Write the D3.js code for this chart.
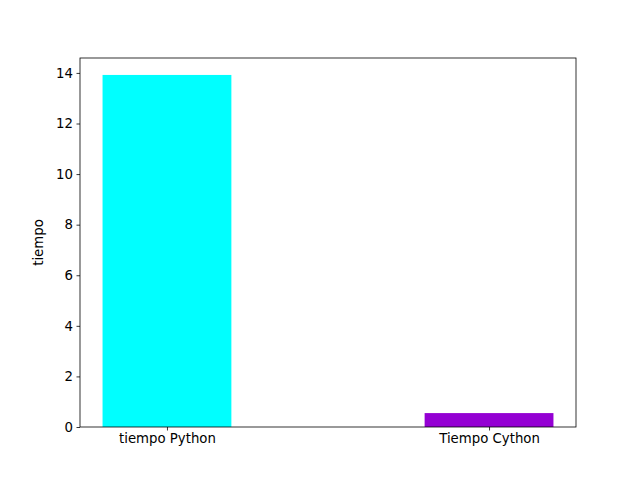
<!DOCTYPE html>
<html><head><meta charset="utf-8">
<script src="https://cdn.jsdelivr.net/npm/d3@7"></script>
<style>body{margin:0;background:#fff}</style></head>
<body><svg id="c" width="640" height="480"></svg>
<script>
const categories = ["tiempo Python", "Tiempo Cython"];
const values = [13.92, 0.55];
const colors = ["#00ffff", "#9400d3"];
const yTicks = [0, 2, 4, 6, 8, 10, 12, 14];

const svg = d3.select("#c");
const L = 80, R = 576, T = 58, B = 427;
const x = d3.scaleLinear().domain([-0.27, 1.27]).range([L, R]);
const y = d3.scaleLinear().domain([0, 14.59]).range([B, T]);
const bw = 0.4;

svg.selectAll("rect.bar").data(values).join("rect")
  .attr("x", (d, i) => x(i - bw / 2))
  .attr("width", (d, i) => x(i + bw / 2) - x(i - bw / 2))
  .attr("y", d => y(d))
  .attr("height", d => y(0) - y(d))
  .attr("fill", (d, i) => colors[i]);

const font = "DejaVu Sans, sans-serif";
const ya = svg.append("g").attr("transform", `translate(${L},0)`)
  .call(d3.axisLeft(y).tickValues(yTicks).tickSize(3.5).tickPadding(3.5));
const xa = svg.append("g").attr("transform", `translate(0,${B})`)
  .call(d3.axisBottom(x).tickValues([0, 1]).tickFormat((d) => categories[d]).tickSize(3.5).tickPadding(3.5));
[ya, xa].forEach(a => {
  a.select(".domain").remove();
  a.selectAll("text").attr("font-family", font).attr("font-size", 10 * 4 / 3 * 0.75 * 1.333 / 1.333).style("font-size", "13.3px").attr("fill", "#000");
  a.selectAll("line").attr("stroke", "#000").attr("stroke-width", 0.8);
});
svg.append("rect").attr("x", L).attr("y", T).attr("width", R - L).attr("height", B - T)
  .attr("fill", "none").attr("stroke", "#000").attr("stroke-width", 0.8);
svg.append("text").attr("transform", `translate(43,${(T + B) / 2}) rotate(-90)`)
  .attr("text-anchor", "middle").attr("font-family", font).style("font-size", "13.3px").text("tiempo");
</script></body></html>
